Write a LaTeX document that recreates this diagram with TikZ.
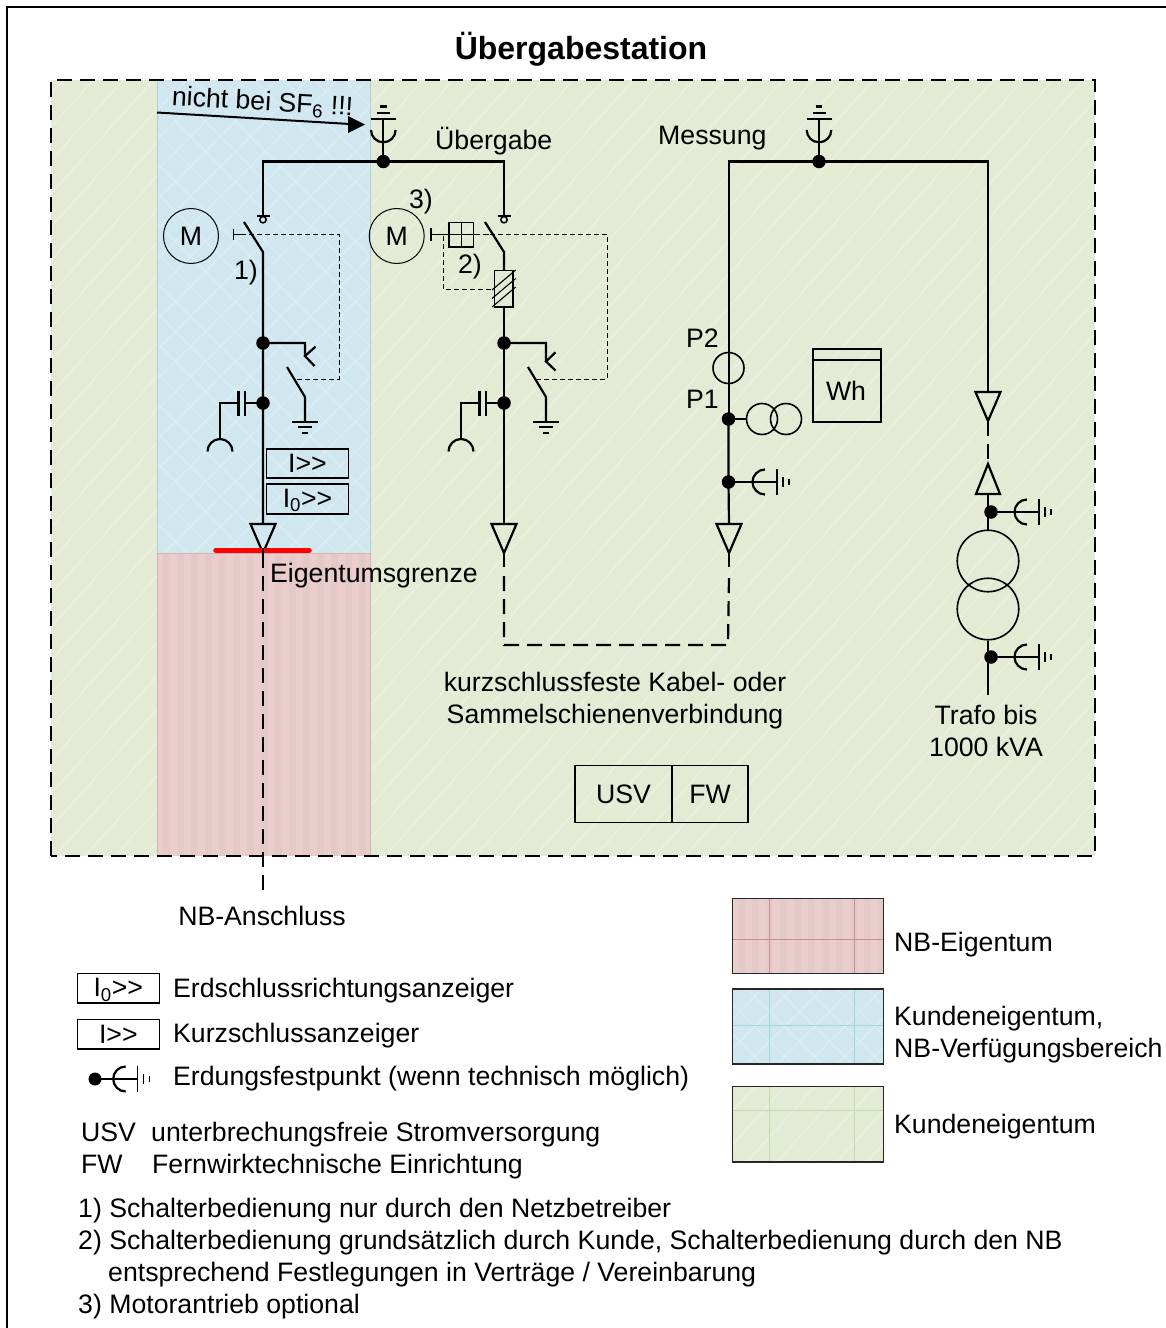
\documentclass[tikz,border=0pt]{standalone}
\usepackage{fontspec}
\setmainfont{Liberation Sans}
\usetikzlibrary{calc}
\definecolor{grn}{HTML}{E3EBD4}
\definecolor{grnline}{HTML}{C9D6AE}
\definecolor{blu}{HTML}{D0E7F0}
\definecolor{bluline}{HTML}{A5D3E2}
\definecolor{red1}{HTML}{EBCDCD}
\definecolor{red2}{HTML}{E3C9C7}
\definecolor{redline}{HTML}{C98F8C}
\newcommand{\GG}{>{}>}
\newcommand{\fs}{\fontsize{26.67}{32}\selectfont}
\newcommand{\Iz}{\raisebox{-8.5pt}[0pt][0pt]{I\textsubscript{0}\GG}}
\newcommand{\greenarea}[4]{%
  \fill[grn] (#1,#2) rectangle (#3,#4);
  \begin{scope}
    \clip (#1,#2) rectangle (#3,#4);
    \pgfmathsetmacro{\hh}{#4-#2}
    \pgfmathsetmacro{\st}{#1-\hh+30}
    \pgfmathsetmacro{\nx}{\st+30}
    \foreach \a in {\st,\nx,...,#3}
      \draw[white,opacity=.25,line width=1.6pt] (\a,#4) -- ++(\hh*0.9,-\hh);
  \end{scope}}
\newcommand{\bluearea}[4]{%
  \fill[blu] (#1,#2) rectangle (#3,#4);
  \begin{scope}
    \clip (#1,#2) rectangle (#3,#4);
    \pgfmathsetmacro{\hh}{#4-#2}
    \pgfmathsetmacro{\st}{#1-\hh}
    \pgfmathsetmacro{\nx}{\st+30}
    \pgfmathsetmacro{\en}{#3+\hh}
    \foreach \a in {\st,\nx,...,\en} {
      \draw[white,opacity=.2,line width=1.6pt] (\a,#4) -- ++(\hh,-\hh);
      \draw[white,opacity=.2,line width=1.6pt] (\a,#2) -- ++(\hh,\hh);
    }
  \end{scope}}
\newcommand{\redarea}[4]{%
  \fill[red1] (#1,#2) rectangle (#3,#4);
  \begin{scope}
    \clip (#1,#2) rectangle (#3,#4);
    \pgfmathsetmacro{\st}{#1+6}
    \pgfmathsetmacro{\nx}{\st+14}
    \foreach \a in {\st,\nx,...,#3}
      \fill[red2] (\a,#2) rectangle ++(7,#4-#2);
  \end{scope}}
\tikzset{
  txt/.style={inner sep=0pt,font=\fs},
  wire/.style={line width=2.2pt,line join=miter,line cap=butt},
  longdash/.style={line width=2.2pt,dash pattern=on 15pt off 8pt},
  ctrl/.style={line width=1pt,dash pattern=on 5pt off 3pt},
  dot/.style={circle,fill=black,inner sep=0pt,minimum size=13.5pt},
  motor/.style={circle,draw,line width=1pt,inner sep=0pt,minimum size=55pt,font=\fs},
  indic/.style={draw,line width=1.6pt,inner sep=0pt,minimum width=82pt,minimum height=29.5pt,font=\fs},
  legbox/.style={line width=1.2pt,draw=black!85},
  pics/earthbar/.style={code={
    \draw[wire] (-13,0)--(13,0) (-7,5.6)--(7,5.6) (-3,11.6)--(3,11.6);
  }},
  pics/term/.style={code={
    \draw[wire] (-6.5,0)--(6.5,0);
    \draw[line width=1.5pt] (0,3.7) circle (3.2);
  }},
  pics/fixearth/.style={code={
    \draw[wire] (0,-12.5) arc (270:90:12.5);
    \draw[line width=1.5pt] (12,-13)--(12,13) (18,-5)--(18,5) (24,-3)--(24,3);
  }},
  pics/topearth/.style={code={
    \draw[wire] (-12.3,0) arc (180:0:12.3);
    \draw[wire] (-12.5,-11)--(12.5,-11) (-6.5,-17)--(6.5,-17) (-3.3,-23.5)--(3.3,-23.5) (0,-11)--(0,31);
  }},
  pics/capfork/.style={code={
    \draw[wire] (-18,-12.5)--(-18,12.5) (-24.5,-12.5)--(-24.5,12.5);
    \draw[wire] (0,0)--(-18,0) (-24.5,0)--(-43,0)--(-43,36);
    \draw[wire] (-55.5,48.5) arc (180:360:12.5);
  }},
  pics/tridown/.style={code={
    \draw[wire] (-12.5,0)--(12.5,0)--(0,29)--cycle;
  }}
}
\begin{document}
\begin{tikzpicture}[x=1pt,y=-1pt]
\useasboundingbox (0,0) rectangle (1166,1328);
\fill[white] (0,0) rectangle (1166,1328);
% frame
\draw[line width=2pt] (1166,7)--(7,7)--(7,1328);
% areas
\greenarea{51}{80}{1095}{856}
\bluearea{157}{80}{370}{553}
\redarea{157}{553}{370}{856}
\draw[line width=.6pt,bluline] (157,80)--(157,553) (370,80)--(370,553);
\draw[line width=.6pt,redline!70] (157,553)--(157,856) (370,553)--(370,856) (157,553)--(370,553);
\draw[line width=2.2pt,dash pattern=on 15pt off 8pt] (51,856)--(51,80)--(1095,80)--(1095,856)--cycle;
% title
\node[inner sep=0pt,font=\fontsize{32}{36}\selectfont\bfseries] (title) at (581,49) {Übergabestation};
% named junctions
\node[dot] (j1) at (383.3,161.5) {};
\node[dot] (j2) at (819,161.5) {};
\node[dot] (dL1) at (263,343) {};
\node[dot] (dL2) at (263,403) {};
\node[dot] (dR1) at (504,343) {};
\node[dot] (dR2) at (504,403) {};
\node[dot] (p1) at (728.5,419) {};
\node[dot] (fp1) at (728.5,482) {};
\node[dot] (fp2) at (991,512) {};
\node[dot] (fp3) at (991,657) {};
\node[dot,minimum size=13pt] (fp4) at (95,1079) {};
% coordinates
\coordinate (tL) at (263,216);
\coordinate (tR) at (504,216);
\coordinate (hL) at (263,252);
\coordinate (hR) at (504,252);
\coordinate (triL) at (263,524);
\coordinate (triR) at (504,524);
\coordinate (triM) at (729,524);
\coordinate (triT) at (988,392);
\coordinate (tipL) at (263,553);
\coordinate (tipR) at (504,553);
\coordinate (tipM) at (729,553);
\coordinate (nbend) at (263,890);
\coordinate (fuseT) at (504,270.7);
\coordinate (fuseB) at (504,307);
% top earths
\pic at (383.3,130) {topearth};
\pic at (819,130) {topearth};
% bus
\draw[wire] (tL) |- (j1.center) -| (tR);
\draw[wire] (j2.center) -| (triM |- p1.center);
\draw[wire] (j2.center) -| (triT);
\pic at (tL) {term};
\pic at (tR) {term};
% left feeder
\draw[wire] (244,222)--(hL)--(dL1.center)--(dL2.center)--(triL);
\draw[wire] (p1.center)--(fp1.center)--(729,524);
\draw[wire] (dL1.center)-|(305,356) (315.5,346.7)--(305,356)--(314.5,366);
\draw[wire] (287,367)--(305,397)--(305,421.7);
\pic at (305,421.7) {earthbar};
\pic at (dL2) {capfork};
\pic at (triL) {tridown};
\node[indic] (ind1) at (307.5,463.5) {I\GG};
\node[indic] (ind2) at (307.5,499) {\Iz};
% right feeder
\draw[wire] (485,222)--(hR)--(fuseT);
\draw[wire] (fuseB)--(dR1.center)--(dR2.center)--(triR);
\draw[wire] (dR1.center)-|(546,361.5) (555.5,352.3)--(546,361.5)--(555.5,370.5);
\draw[wire] (528,367)--(546,397)--(546,421.7);
\pic at (546,421.7) {earthbar};
\pic at (dR2) {capfork};
\pic at (triR) {tridown};
\node[draw,line width=1.6pt,inner sep=0pt,minimum width=18.7pt,minimum height=36.3pt] (fuse) at (503.7,288.8) {};
\draw[line width=1.1pt] (492,290)--(515.7,270) (492,298.5)--(515.7,278.5) (492,307)--(515.7,287);
% left switch drive
\draw[line width=1.6pt] (233.3,229)--(233.3,240);
\draw[line width=1.6pt] (233.3,234.5)--(241,234.5);
\draw[ctrl] (241,234.5)-|(339.3,379)--(295,379);
% right switch drive
\draw[line width=1.6pt] (431,228)--(431,241);
\draw[line width=1.6pt] (431,234.5)--(474,234.5);
\node[draw,line width=1.6pt,inner sep=0pt,minimum size=24.5pt] (aux) at (461.3,234.7) {};
\draw[line width=1.6pt] (aux.north)--(aux.south);
\draw[line width=1.6pt,dash pattern=on 6pt off 3pt] (474,234.5)--(490,234.5);
\draw[ctrl] (490,234.5)-|(607.3,379)--(535,379);
\draw[ctrl] (443,236)|-(494.3,289);
% motors
\node[motor] (mL) at (191,236) {M};
\node[motor] (mR) at (396.7,236) {M};
% red boundary
\draw[line width=5.5pt,red,line cap=round] (216,550.3)--(309,550.3);
% dashes
\draw[longdash] (tipL)--(nbend);
\draw[wire] (263,548)--(tipL);
\draw[wire] (tipR)--(504,567);
\draw[wire] (tipM)--(729,567);
\draw[longdash] (504,576)--(504,645)--(728,645)--(729,576);
% measurement
\node[circle,draw,line width=1.6pt,inner sep=0pt,minimum size=31pt] (ct) at (728.5,368) {};
\pic at (triM) {tridown};
\draw[line width=1.6pt] (p1.center)--(746.5,419);
\node[circle,draw,line width=1.6pt,inner sep=0pt,minimum size=31pt] (vt1) at (762,419) {};
\node[circle,draw,line width=1.6pt,inner sep=0pt,minimum size=31pt] (vt2) at (786,419) {};
\node[draw,line width=1.6pt,inner sep=0pt,minimum width=68pt,minimum height=72.7pt] (wh) at (846.7,385.4) {};
\draw[line width=1.6pt] (wh.north west)++(0,12)--++(68,0);
\node[txt] (whl) at (846,391) {Wh};
\draw[wire] (fp1.center)--(752,482);
\pic at (765,482) {fixearth};
\draw[line width=1.5pt] (752,482)--(777,482);
% trafo
\pic at (triT) {tridown};
\draw[longdash] (988,421)--(988,463);
\draw[wire] (976,494)--(1000,494)--(988,464)--cycle;
\draw[wire] (988,494)--(988,530);
\node[circle,draw,line width=1.6pt,inner sep=0pt,minimum size=61.5pt] (tr1) at (988,561) {};
\node[circle,draw,line width=1.6pt,inner sep=0pt,minimum size=61.5pt] (tr2) at (988,609) {};
\draw[wire] (tr2.south)--(988,695);
\draw[wire] (fp2.center)--(1015,512);
\draw[wire] (fp3.center)--(1015,657);
\pic at (1027,512) {fixearth};
\pic at (1027,657) {fixearth};
\draw[line width=1.5pt] (1015,512)--(1039,512) (1015,657)--(1039,657);
% arrow
\draw[line width=2pt] (157,112.5)--(350,124);
\fill (365,124.5)--(348,116)--(348,133)--cycle;
% labels in plan
\node[txt,rotate=-3.3] (sf6) at (262.5,103) {nicht bei SF\textsubscript{6} !!!};
\node[txt,anchor=base west] (ubg) at (435,149) {Übergabe};
\node[txt,anchor=base west] (mess) at (658,144) {Messung};
\node[txt] (n3) at (421,202) {3)};
\node[txt] (n2) at (470,267) {2)};
\node[txt] (n1) at (246,273) {1)};
\node[txt,anchor=base west] (p2l) at (686,347) {P2};
\node[txt,anchor=base west] (p1l) at (686,408) {P1};
\node[txt,anchor=base west] (eig) at (270,582) {Eigentumsgrenze};
\node[txt,anchor=base] (kz1) at (615,691) {kurzschlussfeste Kabel- oder};
\node[txt,anchor=base] (kz2) at (615,723) {Sammelschienenverbindung};
\node[txt,anchor=base] (tr1l) at (986,724) {Trafo bis};
\node[txt,anchor=base] (tr2l) at (986,756) {1000 kVA};
\node[draw,line width=1.1pt,inner sep=0pt,minimum width=97pt,minimum height=56.5pt,font=\fs] (usv) at (623.5,794) {USV};
\node[draw,line width=1.1pt,inner sep=0pt,minimum width=76pt,minimum height=56.5pt,font=\fs] (fw) at (710,794) {FW};
\node[txt,anchor=base] (nba) at (262,925) {NB-Anschluss};
% legend areas
\redarea{732.3}{898.3}{883.3}{973.3}
\draw[line width=.7pt,redline] (769.3,898.3)--(769.3,973.3) (854.7,898.3)--(854.7,973.3) (732.3,939.3)--(883.3,939.3);
\draw[legbox] (732.3,898.3) rectangle (883.3,973.3);
\bluearea{732.3}{989}{883.3}{1064}
\draw[line width=.7pt,bluline] (769.3,989)--(769.3,1064) (854.7,989)--(854.7,1064) (732.3,1025.3)--(883.3,1025.3);
\draw[legbox] (732.3,989) rectangle (883.3,1064);
\greenarea{732.3}{1086.7}{883.3}{1162}
\draw[line width=.7pt,grnline] (769.3,1086.7)--(769.3,1162) (854.7,1086.7)--(854.7,1162) (732.3,1110.3)--(883.3,1110.3);
\draw[legbox] (732.3,1086.7) rectangle (883.3,1162);
\node[txt,anchor=base west] (l1) at (894,951) {NB-Eigentum};
\node[txt,anchor=base west] (l2) at (894,1025) {Kundeneigentum,};
\node[txt,anchor=base west] (l3) at (894,1057) {NB-Verfügungsbereich};
\node[txt,anchor=base west] (l4) at (894,1133) {Kundeneigentum};
% legend left
\node[indic,line width=1.4pt] (li0) at (118.3,988.3) {\Iz};
\node[indic,line width=1.4pt] (li1) at (118.3,1034.3) {I\GG};
\draw[line width=1.5pt] (fp4.center)--(137.7,1079);
\pic at (125.7,1079) {fixearth};
\node[txt,anchor=base west] (e1) at (173,997) {Erdschlussrichtungsanzeiger};
\node[txt,anchor=base west] (e2) at (173,1042) {Kurzschlussanzeiger};
\node[txt,anchor=base west] (e3) at (173,1085) {Erdungsfestpunkt (wenn technisch möglich)};
\node[txt,anchor=base west] (u1) at (81,1141) {USV};
\node[txt,anchor=base west] (u2) at (151,1141) {unterbrechungsfreie Stromversorgung};
\node[txt,anchor=base west] (f1) at (81,1173) {FW};
\node[txt,anchor=base west] (f2) at (152,1173) {Fernwirktechnische Einrichtung};
\node[txt,anchor=base west] (k1) at (78,1217) {1) Schalterbedienung nur durch den Netzbetreiber};
\node[txt,anchor=base west] (k2) at (78,1249) {2) Schalterbedienung grundsätzlich durch Kunde, Schalterbedienung durch den NB};
\node[txt,anchor=base west] (k2b) at (108,1281) {entsprechend Festlegungen in Verträge / Vereinbarung};
\node[txt,anchor=base west] (k3) at (78,1313) {3) Motorantrieb optional};
\end{tikzpicture}
\end{document}
